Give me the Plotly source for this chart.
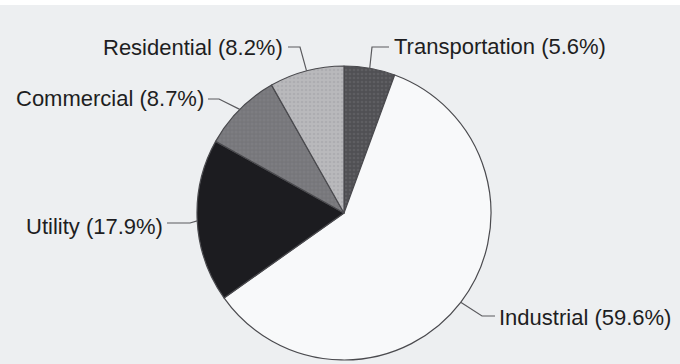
import math
import plotly.graph_objects as go

# Energy consumption share by sector
sectors = ["Transportation", "Industrial", "Utility", "Commercial", "Residential"]
shares = [5.6, 59.6, 17.9, 8.7, 8.2]
slice_colors = ["#505054", "#f8f9fa", "#1c1c20", "#7d7d81", "#b9b9bc"]
slice_patterns = [".", "", "", "+", "."]
pattern_colors = ["#6c6c70", "#f8f9fa", "#1c1c20", "#66666a", "#a2a2a6"]

W, H = 680, 364
CX, CY, R = 344, 213, 147  # pie centre and radius in pixels

# label placement: text anchor point (px), anchor side, elbow point (px)
label_layout = {
    "Transportation": dict(text=(392, 46), side="left", elbow=(372, 47), tail=(389, 47)),
    "Residential": dict(text=(285, 48), side="right", elbow=(300, 47), tail=(288, 47)),
    "Commercial": dict(text=(206, 99), side="right", elbow=(219, 99), tail=(208, 99)),
    "Utility": dict(text=(165, 226), side="right", elbow=(190, 223), tail=(167, 223)),
    "Industrial": dict(text=(497, 317), side="left", elbow=(482, 316), tail=(495, 316)),
}


def px(x):
    return x / W


def py(y):
    return 1 - y / H


fig = go.Figure(
    go.Pie(
        labels=sectors,
        values=shares,
        sort=False,
        direction="clockwise",
        rotation=0,
        textinfo="none",
        hoverinfo="label+percent",
        marker=dict(
            colors=slice_colors,
            line=dict(color="#4a4a4e", width=1.2),
            pattern=dict(
                shape=slice_patterns,
                fgcolor=pattern_colors,
                fillmode="overlay",
                size=4,
                solidity=0.35,
            ),
        ),
        domain=dict(
            x=[px(CX - R), px(CX + R)],
            y=[py(CY + R), py(CY - R)],
        ),
        showlegend=False,
    )
)

shapes = []
annotations = []
total = sum(shares)
start = 0.0
for name, val in zip(sectors, shares):
    sweep = 360.0 * val / total
    mid = math.radians(start + sweep / 2)
    start += sweep
    # point on the rim at the slice's mid angle (clockwise from 12 o'clock)
    ex = CX + R * math.sin(mid)
    ey = CY - R * math.cos(mid)
    lay = label_layout[name]
    (bx, by), (tx, ty) = lay["elbow"], lay["tail"]
    path = f"M {px(ex)} {py(ey)} L {px(bx)} {py(by)} L {px(tx)} {py(ty)}"
    shapes.append(dict(type="path", xref="paper", yref="paper", path=path,
                       line=dict(color="#5a5a5e", width=1.2)))
    lx, ly = lay["text"]
    annotations.append(dict(
        x=px(lx), y=py(ly), xref="paper", yref="paper",
        text=f"{name} ({val}%)", showarrow=False,
        xanchor="left" if lay["side"] == "left" else "right", yanchor="middle",
        font=dict(family="Liberation Sans, Arial, sans-serif", size=22, color="#1e1e22"),
    ))

# thin white strip along the top edge
shapes.append(dict(type="rect", xref="paper", yref="paper",
                   x0=0, x1=1, y0=py(5), y1=1, line=dict(width=0),
                   fillcolor="#ffffff", layer="above"))

fig.update_layout(
    width=W, height=H,
    margin=dict(l=0, r=0, t=0, b=0),
    paper_bgcolor="#edeff1",
    plot_bgcolor="#edeff1",
    shapes=shapes,
    annotations=annotations,
)

fig.write_html("out.html")
